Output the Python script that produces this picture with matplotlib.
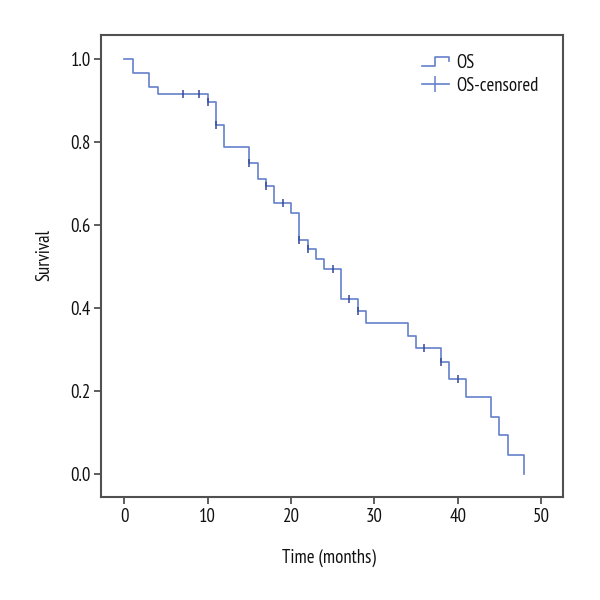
import matplotlib
matplotlib.use("Agg")
import matplotlib.pyplot as plt
from matplotlib.lines import Line2D
from matplotlib.legend_handler import HandlerBase

plt.rcParams['font.family'] = ['PT Sans Narrow', 'DejaVu Sans']

# Kaplan-Meier step data
step_times = [0, 1, 3, 4, 10, 11, 12, 15, 16, 17, 18, 20, 21, 22, 23, 24, 26,
              28, 29, 34, 35, 38, 39, 41, 44, 45, 46, 48]
step_surv = [1.0, 0.966, 0.932, 0.915, 0.897, 0.841, 0.787, 0.749, 0.711, 0.693,
             0.652, 0.630, 0.563, 0.542, 0.518, 0.495, 0.422, 0.393, 0.363, 0.333,
             0.304, 0.270, 0.230, 0.185, 0.138, 0.093, 0.047, 0.0]

censor_times = [7, 9, 10, 11, 15, 17, 19, 21, 22, 25, 27, 28, 36, 38, 40]
censor_surv = [0.915, 0.915, 0.897, 0.841, 0.749, 0.693, 0.652, 0.563, 0.542,
               0.495, 0.422, 0.393, 0.304, 0.270, 0.230]

x_ticks = [0, 10, 20, 30, 40, 50]
y_ticks = [0.0, 0.2, 0.4, 0.6, 0.8, 1.0]

line_color = '#6580cc'
censor_color = '#34489a'
spine_color = '#505050'
text_color = '#111111'
FS = 13.5


class StepHandler(HandlerBase):
    def create_artists(self, legend, orig_handle, xdescent, ydescent, width,
                       height, fontsize, trans):
        x0 = -xdescent
        y0 = -ydescent
        xs = [x0, x0 + 0.5 * width, x0 + 0.5 * width, x0 + width, x0 + width]
        ys = [y0 + 0.15 * height, y0 + 0.15 * height, y0 + 0.80 * height,
              y0 + 0.80 * height, y0 + 0.5 * height]
        ln = Line2D(xs, ys, color=line_color, lw=1.2, transform=trans)
        return [ln]


fig = plt.figure(figsize=(6, 6), dpi=100)
L, R, T, B = 101.3, 562.7, 35.0, 496.5
ax = fig.add_axes([L / 600, 1 - B / 600, (R - L) / 600, (B - T) / 600])

ax.step(step_times, step_surv, where='post', color=line_color, lw=1.2)
ax.plot(censor_times, censor_surv, linestyle='none', marker='|',
        markersize=5.5, markeredgewidth=1.1, color=censor_color)

ax.set_xlim(-2.76, 52.6)
ax.set_ylim(-0.054, 1.058)
ax.set_xticks(x_ticks)
ax.set_xticklabels([str(v) for v in x_ticks])
ax.set_yticks(y_ticks)
ax.set_yticklabels([f"{v:.1f}" for v in y_ticks])

for sp in ax.spines.values():
    sp.set_color(spine_color)
    sp.set_linewidth(1.5)
ax.tick_params(direction='out', length=5, width=1.3, color=spine_color,
               labelsize=FS, labelcolor=text_color)
ax.tick_params(axis='x', pad=3.5)
ax.tick_params(axis='y', pad=2.5)

ax.set_xlabel('Time (months)', fontsize=FS, color=text_color)
ax.set_ylabel('Survival', fontsize=FS, color=text_color)
ax.xaxis.label.set_va('center')
ax.yaxis.label.set_va('center')
ax.xaxis.set_label_coords(0.4935, -0.132)
ax.yaxis.set_label_coords(-0.1230, 0.523)

os_handle = Line2D([], [], color=line_color)
cens_handle = Line2D([], [], color=line_color, lw=1.2, marker='|',
                     markersize=11, markeredgewidth=1.1,
                     markeredgecolor=line_color)
leg = fig.legend([os_handle, cens_handle], ['OS', 'OS-censored'],
                 handler_map={os_handle: StepHandler()},
                 loc='upper left', frameon=False, fontsize=FS,
                 handlelength=1.45, handletextpad=0.4, labelspacing=0.28,
                 borderpad=0, borderaxespad=0,
                 bbox_to_anchor=(421.7 / 600, 1 - 53.5 / 600))
for t in leg.get_texts():
    t.set_color(text_color)

fig.savefig('out.png', dpi=100, facecolor='white')
